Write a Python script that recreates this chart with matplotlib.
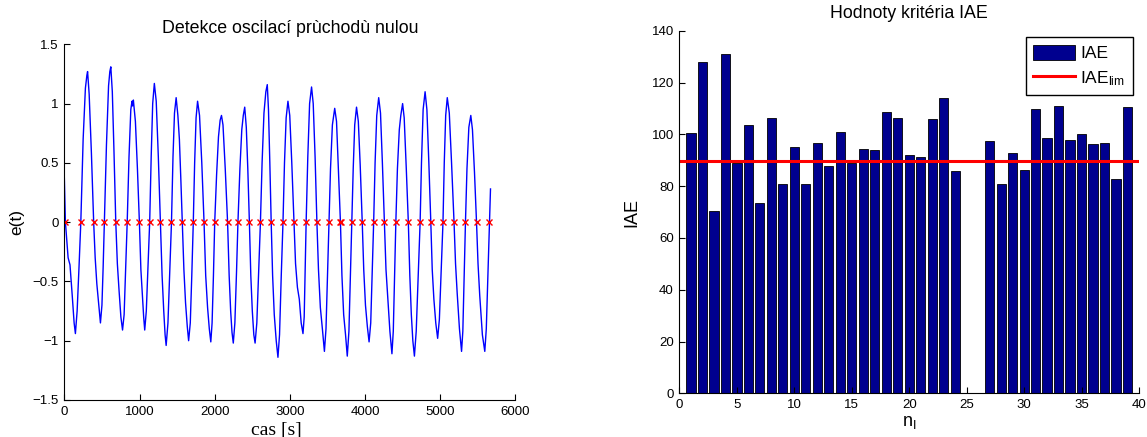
import matplotlib
matplotlib.use("Agg")
import matplotlib.pyplot as plt
from matplotlib.patches import Rectangle
from matplotlib.lines import Line2D

plt.rcParams['font.family'] = ['Liberation Sans', 'DejaVu Sans']
plt.rcParams['mathtext.fontset'] = 'custom'
plt.rcParams['mathtext.rm'] = 'Liberation Sans'
plt.rcParams['mathtext.it'] = 'Liberation Sans:italic'

# ---- oscillation record e(t) ----
time_s = [
    0, 14, 50, 75, 105, 130, 147, 170, 195, 219,
    250, 280, 300, 309, 330, 360, 390,
    410, 432, 458, 480, 500, 516, 532,
    560, 588, 605, 618, 638, 660, 684,
    705, 728, 752, 774, 795, 815, 836,
    860, 884, 900, 908, 918, 945, 972, 998,
    1018, 1038, 1055, 1069, 1090, 1112, 1135,
    1155, 1175, 1197, 1222, 1250, 1278,
    1300, 1322, 1340, 1354, 1378, 1402, 1425,
    1445, 1465, 1487, 1510, 1530, 1550, 1568,
    1590, 1612, 1635, 1653, 1675, 1695, 1715,
    1733, 1752, 1772, 1798, 1828, 1858,
    1880, 1905, 1928, 1948, 1965, 1983, 2000,
    2025, 2050, 2072, 2090, 2110, 2140, 2171,
    2192, 2212, 2230, 2247, 2268, 2290, 2309,
    2335, 2360, 2380, 2399, 2420, 2440, 2461,
    2480, 2500, 2520, 2537, 2560, 2585, 2608,
    2630, 2655, 2680, 2699, 2715, 2733, 2751,
    2770, 2792, 2818, 2841, 2862, 2885, 2908,
    2928, 2950, 2974, 2998, 3025, 3055,
    3075, 3100, 3125, 3150, 3174, 3190, 3203, 3216,
    3238, 3262, 3288, 3310, 3335, 3359,
    3380, 3405, 3432, 3459, 3480, 3500, 3520,
    3540, 3565, 3596, 3620, 3645, 3672,
    3692, 3715, 3740, 3763, 3785, 3805, 3824,
    3842, 3862, 3886, 3910, 3935, 3962,
    3982, 4005, 4030, 4053, 4075, 4095, 4114,
    4133, 4155, 4181, 4205, 4230, 4257,
    4278, 4300, 4330, 4357, 4375, 4392, 4409,
    4430, 4455, 4475, 4499, 4520, 4548, 4575,
    4595, 4615, 4635, 4656, 4680, 4706, 4732,
    4750, 4772, 4798, 4822, 4848, 4874,
    4893, 4915, 4940, 4965, 4988, 5012, 5036,
    5053, 5072, 5093, 5120, 5150, 5183,
    5203, 5225, 5255, 5283, 5300, 5318, 5335,
    5355, 5380, 5406, 5428, 5455, 5482,
    5502, 5525, 5560, 5592, 5612, 5633, 5653,
    5668,
]
error_e = [
    0.37, 0.0, -0.30, -0.36, -0.62, -0.85, -0.94, -0.75, -0.38, 0.0,
    0.70, 1.13, 1.24, 1.27, 1.08, 0.58, 0.0,
    -0.30, -0.52, -0.70, -0.85, -0.70, -0.38, 0.0,
    0.65, 1.15, 1.27, 1.31, 1.10, 0.60, 0.0,
    -0.35, -0.58, -0.80, -0.91, -0.78, -0.40, 0.0,
    0.55, 0.95, 1.02, 0.98, 1.03, 0.85, 0.45, 0.0,
    -0.40, -0.62, -0.80, -0.91, -0.75, -0.38, 0.0,
    0.55, 1.00, 1.17, 1.02, 0.55, 0.0,
    -0.45, -0.75, -0.95, -1.04, -0.85, -0.42, 0.0,
    0.55, 0.92, 1.05, 0.90, 0.70, 0.35, 0.0,
    -0.40, -0.68, -0.88, -1.00, -0.85, -0.45, 0.0,
    0.50, 0.88, 1.02, 0.90, 0.50, 0.0,
    -0.45, -0.72, -0.90, -1.01, -0.85, -0.45, 0.0,
    0.40, 0.72, 0.86, 0.90, 0.82, 0.45, 0.0,
    -0.45, -0.75, -0.93, -1.02, -0.85, -0.42, 0.0,
    0.45, 0.78, 0.90, 0.97, 0.80, 0.45, 0.0,
    -0.45, -0.75, -0.95, -1.02, -0.85, -0.42, 0.0,
    0.50, 0.92, 1.10, 1.16, 0.95, 0.50, 0.0,
    -0.45, -0.78, -1.00, -1.14, -0.95, -0.45, 0.0,
    0.50, 0.88, 1.02, 0.90, 0.50, 0.0,
    -0.35, -0.55, -0.65, -0.85, -0.94, -0.80, -0.40, 0.0,
    0.55, 1.00, 1.14, 1.00, 0.55, 0.0,
    -0.40, -0.72, -0.90, -1.09, -0.90, -0.45, 0.0,
    0.45, 0.82, 0.96, 0.85, 0.45, 0.0,
    -0.45, -0.78, -0.95, -1.13, -0.92, -0.45, 0.0,
    0.45, 0.82, 0.97, 0.85, 0.48, 0.0,
    -0.40, -0.70, -0.88, -1.01, -0.85, -0.42, 0.0,
    0.50, 0.90, 1.05, 0.92, 0.50, 0.0,
    -0.40, -0.62, -0.92, -1.11, -0.92, -0.45, 0.0,
    0.45, 0.78, 0.90, 1.00, 0.88, 0.45, 0.0,
    -0.45, -0.78, -1.00, -1.13, -0.92, -0.45, 0.0,
    0.50, 0.95, 1.10, 0.95, 0.50, 0.0,
    -0.40, -0.65, -0.85, -0.98, -0.82, -0.42, 0.0,
    0.50, 0.90, 1.05, 0.92, 0.50, 0.0,
    -0.35, -0.60, -0.90, -1.09, -0.92, -0.45, 0.0,
    0.45, 0.80, 0.90, 0.78, 0.42, 0.0,
    -0.35, -0.62, -0.95, -1.09, -0.90, -0.45, 0.0,
    0.28,
]

# detected zero crossings
zero_cross_t = [
    14, 219, 390, 532, 684, 836, 998, 1135, 1278, 1425,
    1568, 1715, 1858, 2000, 2171, 2309, 2461, 2608, 2751, 2908,
    3055, 3216, 3359, 3520, 3668, 3676, 3824, 3962, 4114, 4257,
    4409, 4575, 4732, 4874, 5036, 5183, 5335, 5482, 5653,
]
zero_cross_e = [0.0] * len(zero_cross_t)

# ---- IAE criterion per half-period ----
period_idx = list(range(1, 40))
iae_values = [
    100.5, 127.9, 70.4, 130.9, 89.0, 103.5, 73.6, 106.2, 80.9, 95.0,
    80.9, 96.8, 87.6, 100.8, 89.0, 94.2, 93.8, 108.7, 106.2, 92.1,
    91.1, 105.8, 114.0, 86.0, 0.0, 0.0, 97.4, 80.8, 92.8, 86.3,
    109.9, 98.6, 110.9, 97.7, 100.0, 96.4, 96.8, 82.9, 110.5,
]
iae_limit = 89.6

TICK_FS = 9.5

fig = plt.figure(figsize=(11.47, 4.37), dpi=100)

# ---------- left panel ----------
ax1 = fig.add_axes([0.0561, 0.0847, 0.3933, 0.8139])
ax1.plot(time_s, error_e, color='#0000ff', lw=1.0)
ax1.plot(zero_cross_t, zero_cross_e, linestyle='none', marker='x',
         color='#ff0000', markersize=4.5, markeredgewidth=1.0)
ax1.set_xlim(0, 6000)
ax1.set_ylim(-1.5, 1.5)
ax1.set_xticks([0, 1000, 2000, 3000, 4000, 5000, 6000])
ax1.set_yticks([-1.5, -1, -0.5, 0, 0.5, 1, 1.5])
ax1.set_yticklabels(['\u22121.5', '\u22121', '\u22120.5', '0', '0.5', '1', '1.5'])
ax1.set_title('Detekce oscilací prùchodù nulou', fontsize=12.8, pad=8)
ax1.set_ylabel('e(t)', fontsize=12.5, labelpad=6)
ax1.set_xlabel('cas [s]', fontsize=14, family='Liberation Serif')
ax1.xaxis.set_label_coords(0.469, -0.062)

# ---------- right panel ----------
ax2 = fig.add_axes([0.5924, 0.1000, 0.4006, 0.8297])
ax2.bar(period_idx, iae_values, width=0.8, color='#00008f',
        edgecolor='black', linewidth=0.6)
ax2.axhline(iae_limit, color='#ff0000', lw=2.2)
ax2.set_xlim(0, 40)
ax2.set_ylim(0, 140)
ax2.set_xticks(range(0, 41, 5))
ax2.set_yticks(range(0, 141, 20))
ax2.set_title('Hodnoty kritéria IAE', fontsize=12.8, pad=9)
ax2.set_ylabel('IAE', fontsize=13, labelpad=8)
ax2.set_xlabel(r'n$_{\mathrm{I}}$', fontsize=13, labelpad=2)

handles = [Rectangle((0, 0), 1, 1, facecolor='#00008f', edgecolor='black', linewidth=0.6),
           Line2D([], [], color='#ff0000', lw=2.2)]
leg = ax2.legend(handles, ['IAE', r'IAE$_{\mathrm{lim}}$'], loc='upper right',
                 fontsize=12.5, frameon=True, fancybox=False, framealpha=1,
                 edgecolor='black', borderaxespad=0.35, handlelength=2.4,
                 handleheight=0.95, handletextpad=0.3, labelspacing=0.45,
                 borderpad=0.45)
leg.get_frame().set_linewidth(1.0)

for ax in (ax1, ax2):
    for side in ('top', 'right'):
        ax.spines[side].set_visible(False)
    for side in ('left', 'bottom'):
        ax.spines[side].set_linewidth(0.8)
    ax.tick_params(direction='in', length=4, width=0.8, labelsize=TICK_FS, pad=4)

fig.savefig('out.png', dpi=100)
